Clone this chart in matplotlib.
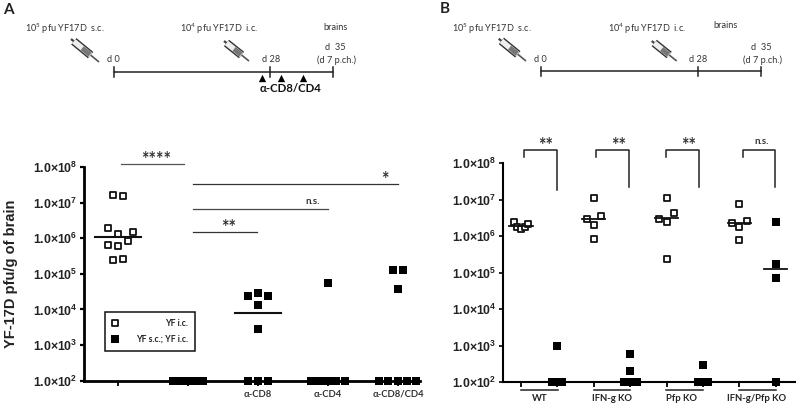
#!/usr/bin/env python3

import numpy as np
import matplotlib
matplotlib.use("Agg")
import matplotlib.pyplot as plt
from matplotlib.patches import Rectangle

W, H = 800, 408

TICK_VALUES = [1e2, 1e3, 1e4, 1e5, 1e6, 1e7, 1e8]
TICK_LABELS = ["1.0×10$^{%d}$" % i for i in range(2, 9)]

# panel A, x offsets are in fractions of a category
A_CATEGORIES = ["", "", "α-CD8", "α-CD4", "α-CD8/CD4"]
A_OPEN_Y = [1.6e7, 1.5e7, 1.9e6, 1.3e6, 1.45e6, 8.1e5, 6.5e5, 6.2e5, 2.4e5, 2.6e5]
A_OPEN_DX = [-0.07, 0.07, -0.14, 0, 0.21, 0.14, -0.14, 0, -0.07, 0.07]
A_OPEN_MEDIAN = 1.05e6
A_SCYF_Y = [1e2] * 7
A_SCYF_DX = [-0.21, -0.14, -0.07, 0, 0.07, 0.14, 0.21]
A_CD8_Y = [2.4e4, 2.9e4, 2.4e4, 1.3e4, 2.8e3, 1e2, 1e2, 1e2]
A_CD8_DX = [-0.14, 0, 0.14, 0, 0, -0.14, 0, 0.14]
A_CD8_MEDIAN = 8.1e3
A_CD4_Y = [5.5e4] + [1e2] * 8
A_CD4_DX = [0, -0.24, -0.18, -0.12, -0.06, 0, 0.06, 0.12, 0.24]
A_DBL_Y = [1.26e5, 1.29e5, 3.7e4, 1e2, 1e2, 1e2, 1e2, 1e2]
A_DBL_DX = [-0.07, 0.07, 0, -0.27, -0.14, 0, 0.13, 0.26]

# panel B, one open and one filled group per genotype
B_GROUPS = ["WT", "IFN-g KO", "Pfp KO", "IFN-g/Pfp KO"]
B_OPEN_Y = [
    [2.4e6, 1.8e6, 1.55e6, 1.8e6, 2.1e6],
    [1.15e7, 3.5e6, 3.0e6, 2.0e6, 8.3e5],
    [1.15e7, 4.3e6, 3.0e6, 2.5e6, 2.3e5],
    [7.8e6, 2.6e6, 2.3e6, 1.8e6, 8.0e5],
]
B_OPEN_DX = [
    [-0.2, -0.12, 0, 0.11, 0.2],
    [0, 0.2, -0.2, 0, 0],
    [0, 0.2, -0.2, 0, 0],
    [0, 0.2, -0.2, 0, 0],
]
B_OPEN_MEDIAN = [1.95e6, 3.0e6, 3.1e6, 2.3e6]
B_FILLED_Y = [
    [9.8e2, 1e2, 1e2, 1e2],
    [5.8e2, 1.95e2, 1e2, 1e2, 1e2, 1e2, 1e2],
    [2.9e2, 1e2, 1e2, 1e2],
    [2.5e6, 1.75e5, 7.2e4, 1e2],
]
B_FILLED_DX = [
    [0, -0.14, 0, 0.14],
    [0, 0, -0.18, -0.09, 0, 0.09, 0.18],
    [0, -0.14, 0, 0.14],
    [0, 0, 0, 0],
]
B_FILLED_MEDIAN = [None, None, None, 1.25e5]
B_STARS = ["**", "**", "**", "n.s."]


def px_axes(fig, left, right, top, bottom):
    return fig.add_axes([left / W, 1 - bottom / H, (right - left) / W, (bottom - top) / H])


def open_squares(ax, x, y):
    ax.scatter(x, y, marker="s", s=23, facecolor="white", edgecolor="#111111",
               linewidth=1.3, clip_on=False, zorder=3)


def filled_squares(ax, x, y):
    ax.scatter(x, y, marker="s", s=29, color="black", linewidth=0, clip_on=False, zorder=4)


def median_line(ax, x, half, y, lw=1.5):
    ax.plot([x - half, x + half], [y, y], color="#111111", lw=lw, zorder=5, clip_on=False)


def format_axis(ax, lw, xticks, xlabels):
    ax.set_yscale("log")
    ax.set_ylim(1e2, 1e8)
    ax.set_yticks(TICK_VALUES, TICK_LABELS)
    ax.minorticks_off()
    ax.set_xticks(xticks, xlabels)
    ax.spines[["top", "right"]].set_visible(False)
    ax.spines[["left", "bottom"]].set_linewidth(lw)
    ax.tick_params(axis="y", length=3, width=lw * 0.8, pad=1.5, labelsize=8.8, labelcolor="#222222")
    ax.tick_params(axis="x", length=3.5, width=1.3, pad=3, labelsize=6.8, labelcolor="#333333")
    for label in ax.get_yticklabels():
        label.set_fontweight("bold")
        label.set_family("Liberation Sans")
    for label in ax.get_xticklabels():
        label.set_family(["Lato", "DejaVu Sans"])
        label.set_fontweight("bold")
    ax.patch.set_alpha(0)


def syringe(ov, x0, y0, x1, y1):
    # hand drawn look: plunger, barrel and needle along one line
    def at(t):
        return x0 + (x1 - x0) * t, y0 + (y1 - y0) * t
    px, py = at(0.0), at(0.15)
    ov.plot([px[0], py[0]], [px[1], py[1]], color="#444444", lw=1.6, solid_capstyle="butt")
    a, b = at(0.1), at(0.7)
    ov.plot([a[0], b[0]], [a[1], b[1]], color="#333333", lw=6, solid_capstyle="butt")
    ov.plot([a[0], b[0]], [a[1], b[1]], color="#eeeeee", lw=4, solid_capstyle="butt")
    a, b = at(0.4), at(0.68)
    ov.plot([a[0], b[0]], [a[1], b[1]], color="#777777", lw=3.6, solid_capstyle="butt")
    a, b = at(0.7), at(1.0)
    ov.plot([a[0], b[0]], [a[1], b[1]], color="#555555", lw=1.2, solid_capstyle="butt")


def stext(ov, x, y, s, size=6.6, color="#333333", weight="normal"):
    ov.text(x, y, s, ha="center", va="center", fontsize=size, color=color, fontweight=weight,
            family=["Lato", "DejaVu Sans"])


def timeline(ov, x0, xm, x1, y):
    ov.plot([x0, x1], [y, y], color="#222222", lw=1.1)
    for x in (x0, xm, x1):
        ov.plot([x, x], [y - 4.5, y + 5], color="#222222", lw=1.1)


def main():
    plt.rcParams["mathtext.default"] = "regular"
    fig = plt.figure(figsize=(W / 100, H / 100), dpi=100)

    # panel A
    ax1 = px_axes(fig, 83.5, 420, 167, 380.7)
    ax1.set_xlim((83.5 - 118) / 70, (420 - 118) / 70)
    format_axis(ax1, 2.0, range(5), A_CATEGORIES)
    ax1.set_ylabel("YF-17D pfu/g of brain", fontsize=10.5, fontweight="bold",
                   family="Liberation Sans", color="#222222")
    ax1.yaxis.set_label_coords((18 - 83.5) / (420 - 83.5), (380.7 - 274) / (380.7 - 167))

    open_squares(ax1, 0 + np.array(A_OPEN_DX), A_OPEN_Y)
    median_line(ax1, 0, 0.33, A_OPEN_MEDIAN)
    filled_squares(ax1, 1 + np.array(A_SCYF_DX), A_SCYF_Y)
    filled_squares(ax1, 2 + np.array(A_CD8_DX), A_CD8_Y)
    median_line(ax1, 2, 0.33, A_CD8_MEDIAN)
    filled_squares(ax1, 3 + np.array(A_CD4_DX), A_CD4_Y)
    filled_squares(ax1, 4 + np.array(A_DBL_DX), A_DBL_Y)

    # panel B
    ax2 = px_axes(fig, 502.7, 795, 163.3, 382)
    ax2.set_xlim((502.7 - 521) / 36.4, (795 - 521) / 36.4)
    format_axis(ax2, 1.5, range(8), [""] * 8)

    for i in range(4):
        open_squares(ax2, 2 * i + np.array(B_OPEN_DX[i]), B_OPEN_Y[i])
        median_line(ax2, 2 * i, 0.32, B_OPEN_MEDIAN[i], lw=1.3)
        filled_squares(ax2, 2 * i + 1 + np.array(B_FILLED_DX[i]), B_FILLED_Y[i])
        if B_FILLED_MEDIAN[i] is not None:
            median_line(ax2, 2 * i + 1, 0.32, B_FILLED_MEDIAN[i], lw=1.3)

    # everything else sits on a pixel overlay
    ov = fig.add_axes([0, 0, 1, 1])
    ov.set_xlim(0, W)
    ov.set_ylim(H, 0)
    ov.axis("off")
    ov.patch.set_alpha(0)

    # significance lines A
    ov.plot([121, 184], [164, 164], color="#555555", lw=0.9)
    ov.plot([193, 398], [184, 184], color="#333333", lw=0.9)
    ov.plot([193, 328], [209, 209], color="#444444", lw=0.9)
    ov.plot([193, 257], [232, 232], color="#333333", lw=0.9)
    stext(ov, 156, 160, "****", size=13, weight="bold")
    stext(ov, 385, 180, "*", size=13, weight="bold")
    stext(ov, 313, 202, "n.s.", size=7, weight="bold")
    stext(ov, 229, 227, "**", size=13, weight="bold")

    # legend A
    ov.add_patch(Rectangle((105, 311.5), 90, 39.5, facecolor="white", edgecolor="#111111",
                           lw=1.1, zorder=6))
    ov.scatter([115], [323], marker="s", s=23, facecolor="white", edgecolor="#111111",
               linewidth=1.3, zorder=7)
    ov.scatter([115], [339], marker="s", s=29, color="black", linewidth=0, zorder=7)
    for y, s in [(323, "YF i.c."), (339, "YF s.c.; YF i.c.")]:
        ov.text(188, y, s, ha="right", va="center", fontsize=6.2, fontweight="bold",
                family="Lato", color="#222222", zorder=7)

    # brackets and group labels B
    lefts = [524.3, 596, 666, 742.7]
    rights = [557, 629, 699, 775]
    bottoms = [190, 186.7, 186.7, 186.7]
    star_x = [546, 619, 688.7, 761.7]
    group_x = [540, 612, 682, 757]
    group_l = [520.7, 594, 666, 739]
    group_r = [557.7, 630, 702.7, 775.7]
    for i in range(4):
        ov.plot([lefts[i], lefts[i], rights[i], rights[i]], [157, 150, 150, bottoms[i]],
                color="#222222", lw=1.1)
        if B_STARS[i] == "n.s.":
            stext(ov, star_x[i], 142, B_STARS[i], size=7, weight="bold")
        else:
            stext(ov, star_x[i], 146, B_STARS[i], size=13, weight="bold")
        ov.plot([group_l[i], group_r[i]], [390, 390], color="#222222", lw=1.1)
        stext(ov, group_x[i], 398.5, B_GROUPS[i], size=6.8, color="#222222", weight="bold")

    # schematic A
    stext(ov, 8.3, 9.7, "A", size=11, color="#222222", weight="bold")
    stext(ov, 65, 29, "10$^5$ pfu YF17D  s.c.")
    stext(ov, 219, 29, "10$^4$ pfu YF17D  i.c.")
    stext(ov, 335, 27.7, "brains")
    stext(ov, 335, 47.7, "d  35")
    stext(ov, 336.7, 60, "(d 7 p.ch.)")
    stext(ov, 113.5, 60, "d 0")
    stext(ov, 271, 60, "d 28")
    timeline(ov, 113.7, 270, 333, 71.7)
    ov.scatter([262, 281, 303], [78, 78, 78], marker="^", s=28, color="black", linewidth=0)
    stext(ov, 291, 88.7, "α-CD8/CD4", size=8.2, color="#111111", weight="bold")
    syringe(ov, 71, 39, 99, 62)
    syringe(ov, 224, 41, 249, 61)

    # schematic B
    stext(ov, 444.7, 9, "B", size=11, color="#222222", weight="bold")
    stext(ov, 491.7, 29, "10$^5$ pfu YF17D  s.c.")
    stext(ov, 646.7, 29, "10$^4$ pfu YF17D  i.c.")
    stext(ov, 725, 25, "brains")
    stext(ov, 761, 47, "d  35")
    stext(ov, 762.7, 60, "(d 7 p.ch.)")
    stext(ov, 540.7, 60, "d 0")
    stext(ov, 698.3, 60, "d 28")
    timeline(ov, 541, 697.7, 760.7, 71.3)
    syringe(ov, 498.7, 38.7, 526, 61)
    syringe(ov, 651.7, 41, 676.7, 61)

    fig.savefig("out.png", dpi=100)


if __name__ == "__main__":
    main()
